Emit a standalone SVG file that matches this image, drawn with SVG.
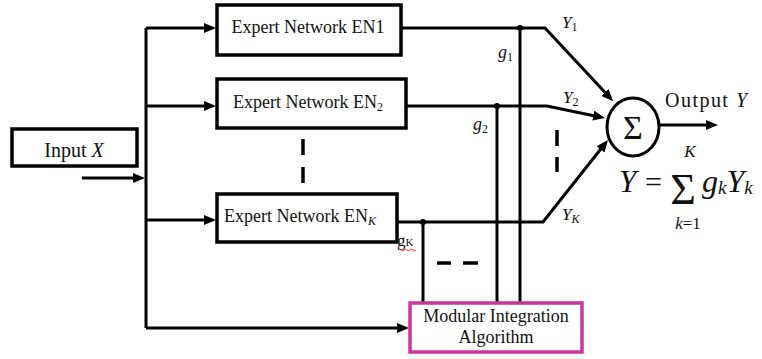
<svg xmlns="http://www.w3.org/2000/svg" width="762" height="359" viewBox="0 0 762 359">
<style>
.box{fill:#fff;stroke:#000;stroke-width:3.5}
.mod{fill:#fff;stroke:#c8379b;stroke-width:3.5}
.ln{fill:none;stroke:#000;stroke-width:3}
.arr{fill:none;stroke:#000;stroke-width:3;marker-end:url(#ah)}
.dash{stroke:#000;stroke-width:3.5}
.it{font-style:italic}
</style>
<defs>
<marker id="ah" viewBox="0 0 12 10" refX="3" refY="5" markerWidth="12" markerHeight="10" markerUnits="userSpaceOnUse" orient="auto">
<path d="M0,0 L12,5 L0,10 z" fill="#000"/>
</marker>
</defs>
<rect width="762" height="359" fill="#fff"/>
<g id="connectors">
<path class="arr" d="M82,178 H136"/>
<path class="ln" d="M146,28 V328"/>
<path class="arr" d="M146,28 H207"/>
<path class="arr" d="M146,106 H207"/>
<path class="arr" d="M146,220 H207"/>
<path class="arr" d="M146,328 H400"/>
<path class="arr" d="M401,28 H545 L607,94.6"/>
<path class="arr" d="M406,106 H547 L596.2,116.2"/>
<path class="arr" d="M397,222 H543 L602.4,147"/>
<path class="arr" d="M659,125 H709"/>
<path class="ln" d="M520,28 V302"/>
<path class="ln" d="M497,106 V302"/>
<path class="ln" d="M423,222 V302"/>
<circle cx="520" cy="28" r="3" fill="#000"/>
<circle cx="497" cy="106" r="3" fill="#000"/>
<circle cx="423" cy="222" r="3" fill="#000"/>
<line class="dash" x1="303" y1="139" x2="303" y2="155"/>
<line class="dash" x1="303" y1="167" x2="303" y2="183"/>
<line class="dash" x1="557" y1="130" x2="557" y2="146"/>
<line class="dash" x1="557" y1="157" x2="557" y2="172"/>
<line class="dash" x1="437" y1="263" x2="451" y2="263"/>
<line class="dash" x1="463" y1="263" x2="478" y2="263"/>
</g>
<g font-family="Liberation Serif, Times New Roman, serif" fill="#111">
<g id="input">
<rect class="box" x="12" y="129" width="125" height="37"/>
<text x="74" y="157" font-size="20" text-anchor="middle">Input <tspan class="it">X</tspan></text>
</g>
<g id="en1">
<rect class="box" x="217" y="5" width="184" height="50"/>
<text x="308" y="33" font-size="18" text-anchor="middle">Expert Network EN1</text>
</g>
<g id="en2">
<rect class="box" x="217" y="79" width="189" height="49"/>
<text x="233" y="108" font-size="18">Expert Network EN<tspan font-size="12" dy="3">2</tspan></text>
</g>
<g id="enk">
<rect class="box" x="217" y="194" width="180" height="48"/>
<text x="224" y="222" font-size="18">Expert Network EN<tspan class="it" font-size="12" dy="3">K</tspan></text>
</g>
<g id="mia">
<rect class="mod" x="410" y="303" width="172" height="49"/>
<text x="496" y="322" font-size="18" text-anchor="middle">Modular Integration</text>
<text x="496" y="343" font-size="18" text-anchor="middle">Algorithm</text>
</g>
<g id="sum">
<ellipse cx="633" cy="127" rx="26" ry="29" fill="#fff" stroke="#000" stroke-width="3"/>
<text x="633" y="139" font-size="34" text-anchor="middle">Σ</text>
</g>
<g id="labels">
<text x="562" y="28" font-size="17"><tspan class="it">Y</tspan><tspan font-size="12" dy="3">1</tspan></text>
<text x="563" y="103" font-size="17"><tspan class="it">Y</tspan><tspan font-size="12" dy="3">2</tspan></text>
<text x="562" y="220" font-size="17"><tspan class="it">Y</tspan><tspan class="it" font-size="12" dy="3">K</tspan></text>
<text x="498" y="58" font-size="18"><tspan class="it">g</tspan><tspan font-size="12" dy="3">1</tspan></text>
<text x="473" y="130" font-size="18"><tspan class="it">g</tspan><tspan font-size="12" dy="3">2</tspan></text>
<text x="397" y="246" font-size="17">g<tspan font-size="11">K</tspan></text>
<text x="665" y="107" font-size="20" textLength="82" lengthAdjust="spacing">Output <tspan class="it">Y</tspan></text>
</g>
<g id="formula">
<text x="619" y="192" font-size="31" class="it">Y</text>
<text x="645" y="192" font-size="30">=</text>
<text x="683" y="204" font-size="44" text-anchor="middle">Σ</text>
<text x="690" y="157" font-size="17" class="it" text-anchor="middle">K</text>
<text x="688" y="229" font-size="17" text-anchor="middle"><tspan class="it">k</tspan>=1</text>
<text x="702" y="192" font-size="32"><tspan class="it">g</tspan><tspan class="it" font-size="19" dy="2">k</tspan><tspan class="it" dy="-2">Y</tspan><tspan class="it" font-size="19" dy="2">k</tspan></text>
</g>
</g>
<path d="M398,250 q1.5,-1.5 3,0 t3,0 t3,0 t3,0 t3,0 t3,0" fill="none" stroke="#e03030" stroke-width="1"/>
</svg>
